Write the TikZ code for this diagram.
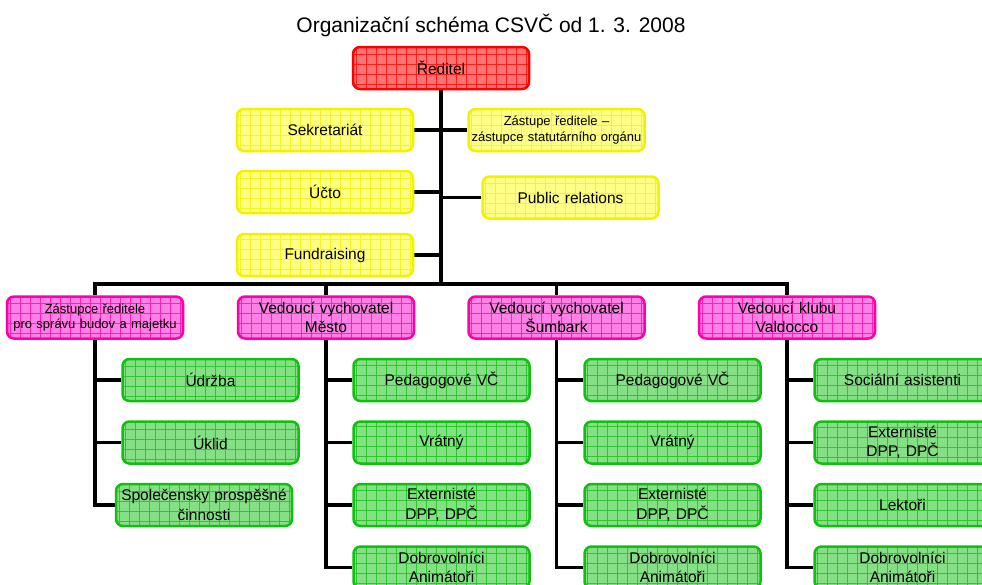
\documentclass[tikz,border=0pt]{standalone}
\usepackage{fontspec}
\setmainfont{Liberation Sans}
\usepackage{xcolor}
\usetikzlibrary{positioning,calc,backgrounds}

\definecolor{redline}{HTML}{FF0000}
\definecolor{redfill}{HTML}{FF7373}
\definecolor{yelline}{HTML}{F2F200}
\definecolor{yelfill}{HTML}{FFFF85}
\definecolor{pinkline}{HTML}{FF00A8}
\definecolor{pinkfill}{HTML}{FF80E6}
\definecolor{greenline}{HTML}{10C010}
\definecolor{greenfill}{HTML}{85E085}

\begin{document}
\begin{tikzpicture}[
    x=1pt, y=-1pt,
    node distance=18pt,
    block/.style 2 args={rectangle, draw=#1, fill=#2, line width=2.5pt, rounded corners=7pt,
        text width=170pt, inner sep=3pt, minimum height=42pt, align=center,
        font=\fontsize{15.5}{19.5}\selectfont,
        path picture={\draw[#1!75!#2, line width=0.6pt] (path picture bounding box.south west) grid[step=10pt] (path picture bounding box.north east);}},
    head/.style={block={redline}{redfill}},
    staff/.style={block={yelline}{yelfill}},
    unit/.style={block={pinkline}{pinkfill}},
    leaf/.style={block={greenline}{greenfill}},
    small/.style={font=\fontsize{13}{15.5}\selectfont},
    line/.style={draw, line width=3.5pt}
]
\useasboundingbox (0,0) rectangle (982,584);
\clip (0,0) rectangle (982,584);

\node [anchor=base, font=\fontsize{21}{24}\selectfont] (title) at (491,32) {Organizační schéma CSVČ od 1. 3. 2008};

\node [head] (reditel) at (441,68) {Ředitel};

% staff around the director
\node [staff] (sekr) at (325,130) {Sekretariát};
\node [staff, small] (zast) at (556.5,130) {Zástupe ředitele --\\zástupce statutárního orgánu};
\node [staff] (ucto) at (325,192) {Účto};
\node [staff] (pr) at (570.5,197.5) {Public relations};
\node [staff] (fund) at (325,255) {Fundraising};
\coordinate (bus) at (441,284);

% units
\node [unit, small] (zastupce) at (95,317.5) {Zástupce ředitele\\pro správu budov a majetku};
\node [unit] (mesto) at (326,317.5) {Vedoucí vychovatel\\Město};
\node [unit] (sumbark) at (556.5,317.5) {Vedoucí vychovatel\\Šumbark};
\node [unit] (valdocco) at (787,317.5) {Vedoucí klubu\\Valdocco};

% first column
\node [leaf] (udrzba) at (210.5,380) {Údržba};
\node [leaf, below=of udrzba] (uklid) {Úklid};
\node [leaf, below=of uklid, xshift=-6.5pt] (spol) {Společensky prospěšné\\činnosti};

% second column
\node [leaf] (pedm) at (441.5,380) {Pedagogové VČ};
\node [leaf, below=of pedm] (vratm) {Vrátný};
\node [leaf, below=of vratm] (extm) {Externisté\\DPP, DPČ};
\node [leaf, below=of extm] (dobrm) {Dobrovolníci\\Animátoři};

% third column
\node [leaf] (peds) at (672.5,380) {Pedagogové VČ};
\node [leaf, below=of peds] (vrats) {Vrátný};
\node [leaf, below=of vrats] (exts) {Externisté\\DPP, DPČ};
\node [leaf, below=of exts] (dobrs) {Dobrovolníci\\Animátoři};

% fourth column
\node [leaf] (soc) at (902.5,380) {Sociální asistenti};
\node [leaf, below=of soc] (extv) {Externisté\\DPP, DPČ};
\node [leaf, below=of extv] (lekt) {Lektoři};
\node [leaf, below=of lekt] (dobrv) {Dobrovolníci\\Animátoři};

\begin{scope}[on background layer]
\path [line] (reditel.south) -- (bus);
\path [line] (sekr.east) -- (sekr.east -| bus);
\path [line] (zast.west) -- (zast.west -| bus);
\path [line] (ucto.east) -- (ucto.east -| bus);
\path [line] (pr.west) -- (pr.west -| bus);
\path [line] (fund.east) -- (fund.east -| bus);

\path [line] (zastupce.north) |- (bus) -| (valdocco.north);
\path [line] (mesto.north) -- (mesto.north |- bus);
\path [line] (sumbark.north) -- (sumbark.north |- bus);

\foreach \boss/\kid in {zastupce/udrzba, zastupce/uklid, zastupce/spol,
    mesto/pedm, mesto/vratm, mesto/extm, mesto/dobrm,
    sumbark/peds, sumbark/vrats, sumbark/exts, sumbark/dobrs,
    valdocco/soc, valdocco/extv, valdocco/lekt, valdocco/dobrv}
  \path [line] (\boss.south) |- (\kid.west);
\end{scope}

\end{tikzpicture}
\end{document}
